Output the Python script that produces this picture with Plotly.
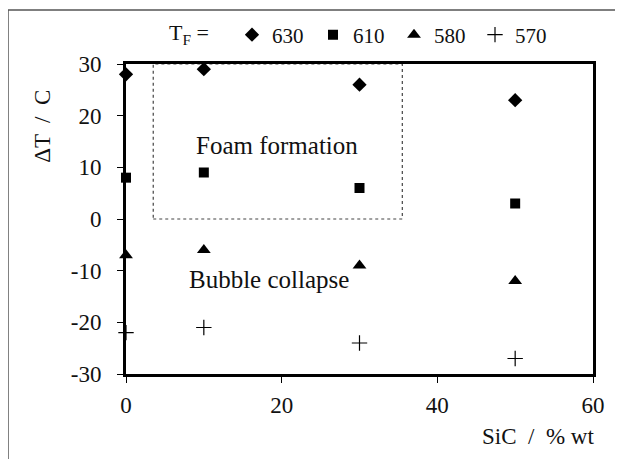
import plotly.graph_objects as go

sic = [0, 10, 30, 50]
dT_630 = [28, 29, 26, 23]
dT_610 = [8, 9, 6, 3]
dT_580 = [-7, -6, -9, -12]
dT_570 = [-22, -21, -24, -27]
series_names = ["630", "610", "580", "570"]
x_ticks = [0, 20, 40, 60]
y_ticks = [-30, -20, -10, 0, 10, 20, 30]
y_tick_text = ["-30", "-20", "-10", "0", "10", "20", "30"]
foam_box = dict(x0=3.5, x1=35.5, y0=0, y1=30)

FONT = "Liberation Serif, serif"

symbols = ["diamond", "square", "triangle-up", "cross-thin-open"]
sizes = [11, 10, 12, 11]
fig = go.Figure()
for name, ys, sym, sz in zip(series_names, [dT_630, dT_610, dT_580, dT_570], symbols, sizes):
    mk = dict(symbol=sym, size=sz, color="black")
    if sym == "cross-thin-open":
        mk["line"] = dict(color="black", width=1.2)
    fig.add_trace(go.Scatter(x=sic, y=ys, mode="markers", name=name, marker=mk,
                             cliponaxis=False))

fig.add_shape(type="rect", xref="x", yref="y", **foam_box,
              line=dict(color="#444", width=1.2, dash="dot"), layer="below")
# outer frame
fig.add_shape(type="rect", xref="paper", yref="paper",
              x0=-0.2527, x1=1.2, y0=-0.4, y1=1.174,
              line=dict(color="#555", width=1.5))

fig.add_annotation(x=19.4, y=14.3, xref="x", yref="y", text="Foam formation",
                   showarrow=False, font=dict(size=25, family=FONT, color="#111"))
fig.add_annotation(x=18.4, y=-11.8, xref="x", yref="y", text="Bubble collapse",
                   showarrow=False, font=dict(size=25, family=FONT, color="#111"))
fig.add_annotation(x=-0.21, y=0.923, xref="paper", yref="paper", text="ΔT  /  C",
                   textangle=-90, showarrow=False,
                   font=dict(size=23, family=FONT, color="#111"))
fig.add_annotation(x=1.006, y=-0.2, xref="paper", yref="paper", text="SiC  /  % wt",
                   xanchor="right", yanchor="middle", showarrow=False,
                   font=dict(size=23, family=FONT, color="#111"))
fig.add_annotation(x=0.088, y=1.097, xref="paper", yref="paper",
                   text="T<sub>F</sub> =", xanchor="left", yanchor="middle", showarrow=False,
                   font=dict(size=22, family=FONT, color="#111"))

fig.update_layout(
    width=623, height=459,
    margin=dict(l=118, r=38, t=56, b=93, autoexpand=False),
    paper_bgcolor="white", plot_bgcolor="white",
    font=dict(family=FONT, size=23, color="#111"),
    showlegend=True,
    legend=dict(orientation="h", xref="container", yref="container",
                x=224 / 623, y=(459 - 27) / 459,
                xanchor="left", yanchor="middle", itemwidth=30,
                entrywidth=36, font=dict(size=21, family=FONT),
                bgcolor="rgba(0,0,0,0)", tracegroupgap=0),
    xaxis=dict(range=[0, 60], tickvals=x_ticks, showgrid=False, zeroline=False,
               showline=True, linecolor="black", linewidth=3, mirror=True,
               ticks="outside", ticklen=6, tickcolor="black", ticklabelstandoff=2),
    yaxis=dict(range=[-30, 30], tickvals=y_ticks, ticktext=y_tick_text,
               showgrid=False, zeroline=False,
               showline=True, linecolor="black", linewidth=3, mirror=True,
               ticks="outside", ticklen=6, tickcolor="black", ticklabelstandoff=11),
)

fig.write_html("out.html")
